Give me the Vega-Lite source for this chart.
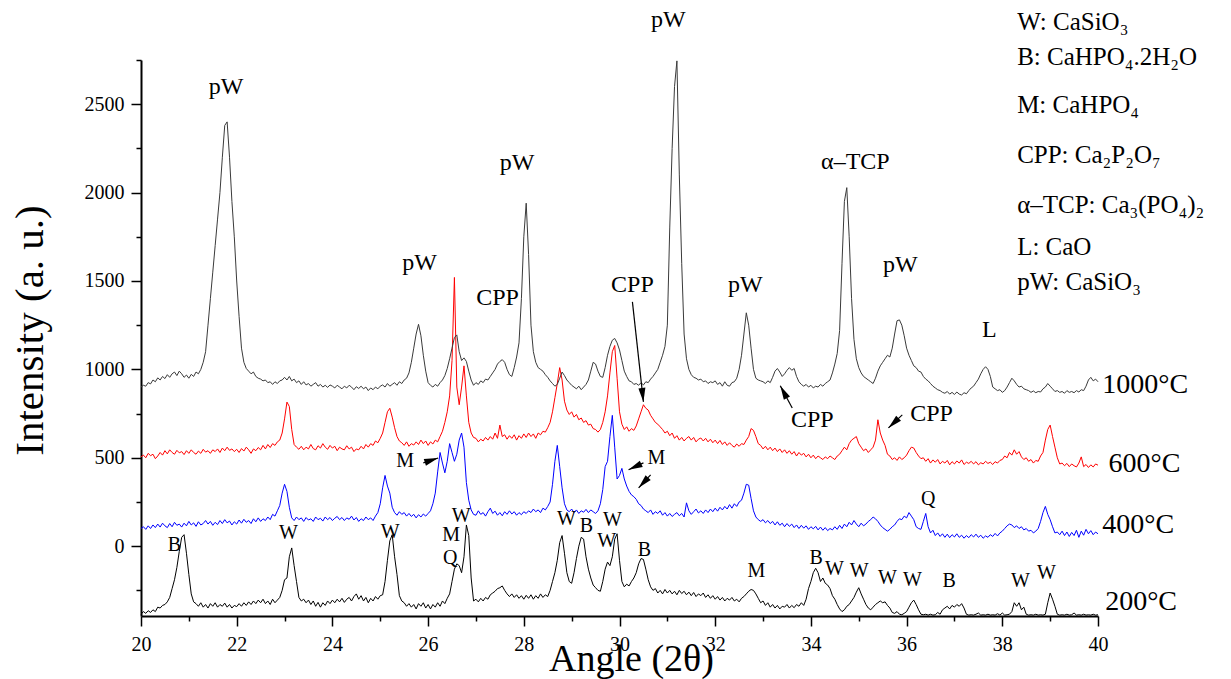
{
"$schema": "https://vega.github.io/schema/vega-lite/v6.json",
"width": 957, "height": 556,
"autosize": {"type": "none"},
"padding": {"left": 141, "top": 60, "right": 133, "bottom": 63},
"background": "white",
"config": {"view": {"stroke": null}, "font": "Liberation Serif"},
"datasets": {
"xrd": [
{"x":20,"a":900,"b":505,"c":100,"d":-385},
{"x":20.05,"a":910,"b":515,"c":110,"d":-370},
{"x":20.1,"a":905,"b":500,"c":95,"d":-380},
{"x":20.15,"a":925,"b":525,"c":115,"d":-365},
{"x":20.2,"a":918,"b":512,"c":100,"d":-375},
{"x":20.25,"a":940,"b":520,"c":120,"d":-360},
{"x":20.3,"a":930,"b":495,"c":105,"d":-370},
{"x":20.35,"a":952,"b":510,"c":125,"d":-345},
{"x":20.4,"a":940,"b":530,"c":108,"d":-350},
{"x":20.45,"a":960,"b":515,"c":130,"d":-335},
{"x":20.5,"a":948,"b":540,"c":115,"d":-330},
{"x":20.55,"a":970,"b":522,"c":105,"d":-315},
{"x":20.6,"a":955,"b":545,"c":128,"d":-290},
{"x":20.65,"a":975,"b":530,"c":110,"d":-240},
{"x":20.7,"a":985,"b":520,"c":135,"d":-190},
{"x":20.75,"a":965,"b":542,"c":118,"d":-120},
{"x":20.8,"a":990,"b":528,"c":125,"d":-30},
{"x":20.85,"a":975,"b":535,"c":108,"d":50},
{"x":20.9,"a":955,"b":518,"c":130,"d":65},
{"x":20.95,"a":968,"b":540,"c":115,"d":-40},
{"x":21,"a":950,"b":525,"c":140,"d":-160},
{"x":21.05,"a":972,"b":545,"c":120,"d":-270},
{"x":21.1,"a":960,"b":530,"c":132,"d":-315},
{"x":21.15,"a":985,"b":520,"c":112,"d":-325},
{"x":21.2,"a":975,"b":538,"c":138,"d":-340},
{"x":21.25,"a":1000,"b":525,"c":120,"d":-320},
{"x":21.3,"a":1040,"b":548,"c":128,"d":-345},
{"x":21.35,"a":1100,"b":532,"c":145,"d":-330},
{"x":21.4,"a":1250,"b":540,"c":125,"d":-350},
{"x":21.45,"a":1400,"b":525,"c":140,"d":-325},
{"x":21.5,"a":1550,"b":545,"c":118,"d":-340},
{"x":21.55,"a":1700,"b":535,"c":135,"d":-320},
{"x":21.6,"a":1850,"b":550,"c":122,"d":-345},
{"x":21.65,"a":2000,"b":530,"c":145,"d":-330},
{"x":21.7,"a":2200,"b":555,"c":128,"d":-340},
{"x":21.75,"a":2380,"b":540,"c":150,"d":-322},
{"x":21.8,"a":2400,"b":560,"c":132,"d":-345},
{"x":21.85,"a":2200,"b":542,"c":142,"d":-330},
{"x":21.9,"a":1950,"b":550,"c":120,"d":-350},
{"x":21.95,"a":1750,"b":535,"c":138,"d":-335},
{"x":22,"a":1500,"b":548,"c":125,"d":-342},
{"x":22.05,"a":1300,"b":530,"c":148,"d":-325},
{"x":22.1,"a":1120,"b":552,"c":130,"d":-340},
{"x":22.15,"a":1040,"b":538,"c":152,"d":-320},
{"x":22.2,"a":1005,"b":560,"c":135,"d":-335},
{"x":22.25,"a":990,"b":545,"c":145,"d":-315},
{"x":22.3,"a":975,"b":525,"c":128,"d":-330},
{"x":22.35,"a":985,"b":550,"c":155,"d":-310},
{"x":22.4,"a":960,"b":540,"c":138,"d":-325},
{"x":22.45,"a":950,"b":558,"c":160,"d":-305},
{"x":22.5,"a":945,"b":545,"c":140,"d":-320},
{"x":22.55,"a":935,"b":570,"c":155,"d":-300},
{"x":22.6,"a":940,"b":550,"c":145,"d":-325},
{"x":22.65,"a":925,"b":575,"c":165,"d":-310},
{"x":22.7,"a":930,"b":558,"c":150,"d":-330},
{"x":22.75,"a":915,"b":580,"c":180,"d":-300},
{"x":22.8,"a":930,"b":570,"c":170,"d":-320},
{"x":22.85,"a":920,"b":590,"c":200,"d":-305},
{"x":22.9,"a":935,"b":600,"c":230,"d":-290},
{"x":22.95,"a":940,"b":640,"c":300,"d":-250},
{"x":23,"a":955,"b":720,"c":350,"d":-190},
{"x":23.05,"a":940,"b":815,"c":310,"d":-180},
{"x":23.1,"a":960,"b":790,"c":220,"d":-60},
{"x":23.15,"a":935,"b":660,"c":160,"d":-10},
{"x":23.2,"a":945,"b":575,"c":145,"d":-110},
{"x":23.25,"a":925,"b":560,"c":165,"d":-200},
{"x":23.3,"a":935,"b":548,"c":150,"d":-290},
{"x":23.35,"a":915,"b":565,"c":160,"d":-310},
{"x":23.4,"a":930,"b":545,"c":140,"d":-300},
{"x":23.45,"a":912,"b":560,"c":162,"d":-320},
{"x":23.5,"a":920,"b":550,"c":148,"d":-305},
{"x":23.55,"a":905,"b":575,"c":155,"d":-330},
{"x":23.6,"a":915,"b":552,"c":140,"d":-310},
{"x":23.65,"a":925,"b":545,"c":165,"d":-340},
{"x":23.7,"a":905,"b":568,"c":150,"d":-318},
{"x":23.75,"a":915,"b":555,"c":158,"d":-345},
{"x":23.8,"a":900,"b":580,"c":142,"d":-320},
{"x":23.85,"a":910,"b":560,"c":165,"d":-335},
{"x":23.9,"a":898,"b":548,"c":150,"d":-310},
{"x":23.95,"a":912,"b":570,"c":162,"d":-325},
{"x":24,"a":905,"b":555,"c":145,"d":-305},
{"x":24.05,"a":895,"b":565,"c":158,"d":-320},
{"x":24.1,"a":910,"b":540,"c":168,"d":-300},
{"x":24.15,"a":900,"b":560,"c":150,"d":-315},
{"x":24.2,"a":890,"b":550,"c":162,"d":-295},
{"x":24.25,"a":905,"b":545,"c":145,"d":-318},
{"x":24.3,"a":895,"b":568,"c":160,"d":-300},
{"x":24.35,"a":910,"b":550,"c":152,"d":-290},
{"x":24.4,"a":900,"b":560,"c":170,"d":-310},
{"x":24.45,"a":885,"b":535,"c":148,"d":-285},
{"x":24.5,"a":902,"b":550,"c":162,"d":-270},
{"x":24.55,"a":892,"b":545,"c":140,"d":-300},
{"x":24.6,"a":905,"b":565,"c":155,"d":-280},
{"x":24.65,"a":890,"b":550,"c":145,"d":-310},
{"x":24.7,"a":900,"b":575,"c":165,"d":-290},
{"x":24.75,"a":880,"b":560,"c":150,"d":-320},
{"x":24.8,"a":895,"b":580,"c":160,"d":-295},
{"x":24.85,"a":885,"b":570,"c":145,"d":-310},
{"x":24.9,"a":900,"b":595,"c":170,"d":-285},
{"x":24.95,"a":890,"b":585,"c":190,"d":-300},
{"x":25,"a":905,"b":610,"c":240,"d":-280},
{"x":25.05,"a":912,"b":640,"c":330,"d":-275},
{"x":25.1,"a":900,"b":700,"c":400,"d":-200},
{"x":25.15,"a":920,"b":760,"c":340,"d":-80},
{"x":25.2,"a":905,"b":780,"c":300,"d":30},
{"x":25.25,"a":915,"b":730,"c":220,"d":65},
{"x":25.3,"a":925,"b":670,"c":190,"d":-60},
{"x":25.35,"a":910,"b":620,"c":175,"d":-160},
{"x":25.4,"a":930,"b":595,"c":195,"d":-280},
{"x":25.45,"a":920,"b":585,"c":180,"d":-310},
{"x":25.5,"a":940,"b":570,"c":190,"d":-320},
{"x":25.55,"a":950,"b":590,"c":170,"d":-340},
{"x":25.6,"a":980,"b":565,"c":185,"d":-325},
{"x":25.65,"a":1040,"b":580,"c":168,"d":-345},
{"x":25.7,"a":1120,"b":572,"c":180,"d":-330},
{"x":25.75,"a":1200,"b":590,"c":160,"d":-355},
{"x":25.8,"a":1255,"b":575,"c":178,"d":-325},
{"x":25.85,"a":1190,"b":600,"c":165,"d":-340},
{"x":25.9,"a":1080,"b":580,"c":182,"d":-320},
{"x":25.95,"a":990,"b":595,"c":170,"d":-350},
{"x":26,"a":925,"b":570,"c":185,"d":-330},
{"x":26.05,"a":910,"b":590,"c":200,"d":-355},
{"x":26.1,"a":900,"b":578,"c":240,"d":-330},
{"x":26.15,"a":915,"b":600,"c":300,"d":-345},
{"x":26.2,"a":905,"b":590,"c":420,"d":-320},
{"x":26.25,"a":925,"b":620,"c":530,"d":-340},
{"x":26.3,"a":940,"b":650,"c":470,"d":-310},
{"x":26.35,"a":965,"b":700,"c":415,"d":-325},
{"x":26.4,"a":1005,"b":760,"c":480,"d":-295},
{"x":26.45,"a":1060,"b":850,"c":580,"d":-270},
{"x":26.5,"a":1120,"b":1050,"c":530,"d":-200},
{"x":26.55,"a":1180,"b":1520,"c":480,"d":-130},
{"x":26.6,"a":1195,"b":900,"c":520,"d":-100},
{"x":26.65,"a":1100,"b":800,"c":600,"d":-110},
{"x":26.7,"a":1050,"b":900,"c":640,"d":-150},
{"x":26.75,"a":1065,"b":1020,"c":560,"d":-60},
{"x":26.8,"a":1045,"b":850,"c":360,"d":120},
{"x":26.85,"a":990,"b":700,"c":260,"d":60},
{"x":26.9,"a":940,"b":640,"c":205,"d":-180},
{"x":26.95,"a":910,"b":615,"c":180,"d":-310},
{"x":27,"a":925,"b":610,"c":175,"d":-300},
{"x":27.05,"a":915,"b":590,"c":200,"d":-315},
{"x":27.1,"a":935,"b":605,"c":180,"d":-295},
{"x":27.15,"a":925,"b":595,"c":190,"d":-310},
{"x":27.2,"a":945,"b":615,"c":170,"d":-290},
{"x":27.25,"a":940,"b":600,"c":195,"d":-300},
{"x":27.3,"a":960,"b":620,"c":215,"d":-275},
{"x":27.35,"a":980,"b":605,"c":185,"d":-265},
{"x":27.4,"a":1000,"b":640,"c":198,"d":-255},
{"x":27.45,"a":1030,"b":610,"c":175,"d":-240},
{"x":27.5,"a":1045,"b":685,"c":190,"d":-235},
{"x":27.55,"a":1055,"b":620,"c":172,"d":-225},
{"x":27.6,"a":1040,"b":630,"c":195,"d":-250},
{"x":27.65,"a":1000,"b":605,"c":180,"d":-270},
{"x":27.7,"a":970,"b":625,"c":200,"d":-285},
{"x":27.75,"a":960,"b":610,"c":182,"d":-270},
{"x":27.8,"a":1010,"b":630,"c":195,"d":-290},
{"x":27.85,"a":1070,"b":600,"c":175,"d":-275},
{"x":27.9,"a":1150,"b":625,"c":190,"d":-295},
{"x":27.95,"a":1400,"b":610,"c":178,"d":-280},
{"x":28,"a":1750,"b":635,"c":195,"d":-300},
{"x":28.05,"a":1940,"b":615,"c":185,"d":-278},
{"x":28.1,"a":1650,"b":640,"c":200,"d":-295},
{"x":28.15,"a":1250,"b":620,"c":190,"d":-275},
{"x":28.2,"a":1100,"b":635,"c":210,"d":-300},
{"x":28.25,"a":1040,"b":610,"c":195,"d":-280},
{"x":28.3,"a":1010,"b":640,"c":205,"d":-295},
{"x":28.35,"a":1000,"b":630,"c":190,"d":-270},
{"x":28.4,"a":990,"b":650,"c":215,"d":-290},
{"x":28.45,"a":970,"b":645,"c":205,"d":-275},
{"x":28.5,"a":955,"b":670,"c":225,"d":-285},
{"x":28.55,"a":935,"b":700,"c":250,"d":-250},
{"x":28.6,"a":920,"b":760,"c":350,"d":-200},
{"x":28.65,"a":905,"b":840,"c":480,"d":-150},
{"x":28.7,"a":915,"b":920,"c":570,"d":-80},
{"x":28.75,"a":950,"b":1010,"c":450,"d":20},
{"x":28.8,"a":985,"b":940,"c":330,"d":60},
{"x":28.85,"a":965,"b":820,"c":240,"d":-40},
{"x":28.9,"a":940,"b":770,"c":205,"d":-150},
{"x":28.95,"a":925,"b":745,"c":195,"d":-200},
{"x":29,"a":910,"b":760,"c":210,"d":-210},
{"x":29.05,"a":900,"b":730,"c":190,"d":-150},
{"x":29.1,"a":890,"b":745,"c":205,"d":-70},
{"x":29.15,"a":905,"b":715,"c":185,"d":0},
{"x":29.2,"a":885,"b":725,"c":200,"d":50},
{"x":29.25,"a":900,"b":700,"c":192,"d":40},
{"x":29.3,"a":915,"b":710,"c":208,"d":-60},
{"x":29.35,"a":940,"b":685,"c":190,"d":-130},
{"x":29.4,"a":990,"b":690,"c":205,"d":-180},
{"x":29.45,"a":1040,"b":665,"c":195,"d":-220},
{"x":29.5,"a":1030,"b":660,"c":185,"d":-235},
{"x":29.55,"a":990,"b":645,"c":200,"d":-250},
{"x":29.6,"a":960,"b":660,"c":240,"d":-255},
{"x":29.65,"a":955,"b":700,"c":320,"d":-200},
{"x":29.7,"a":1010,"b":760,"c":450,"d":-130},
{"x":29.75,"a":1080,"b":850,"c":480,"d":-90},
{"x":29.8,"a":1130,"b":980,"c":620,"d":-110},
{"x":29.85,"a":1165,"b":1100,"c":740,"d":-60},
{"x":29.9,"a":1175,"b":1135,"c":560,"d":40},
{"x":29.95,"a":1150,"b":950,"c":380,"d":70},
{"x":30,"a":1110,"b":760,"c":400,"d":-80},
{"x":30.05,"a":1050,"b":690,"c":440,"d":-200},
{"x":30.1,"a":990,"b":660,"c":380,"d":-230},
{"x":30.15,"a":960,"b":675,"c":340,"d":-215},
{"x":30.2,"a":935,"b":650,"c":310,"d":-225},
{"x":30.25,"a":930,"b":665,"c":290,"d":-200},
{"x":30.3,"a":915,"b":655,"c":280,"d":-180},
{"x":30.35,"a":920,"b":680,"c":265,"d":-150},
{"x":30.4,"a":910,"b":720,"c":240,"d":-100},
{"x":30.45,"a":925,"b":760,"c":230,"d":-70},
{"x":30.5,"a":912,"b":800,"c":210,"d":-75},
{"x":30.55,"a":930,"b":780,"c":200,"d":-130},
{"x":30.6,"a":925,"b":770,"c":190,"d":-190},
{"x":30.65,"a":945,"b":740,"c":205,"d":-230},
{"x":30.7,"a":960,"b":720,"c":180,"d":-250},
{"x":30.75,"a":980,"b":700,"c":195,"d":-240},
{"x":30.8,"a":1000,"b":690,"c":185,"d":-265},
{"x":30.85,"a":1040,"b":675,"c":200,"d":-250},
{"x":30.9,"a":1080,"b":660,"c":175,"d":-270},
{"x":30.95,"a":1130,"b":640,"c":190,"d":-245},
{"x":31,"a":1250,"b":650,"c":170,"d":-265},
{"x":31.05,"a":1800,"b":625,"c":185,"d":-250},
{"x":31.1,"a":2250,"b":640,"c":168,"d":-270},
{"x":31.15,"a":2600,"b":610,"c":180,"d":-255},
{"x":31.2,"a":2745,"b":625,"c":190,"d":-275},
{"x":31.25,"a":2100,"b":600,"c":172,"d":-250},
{"x":31.3,"a":1600,"b":615,"c":185,"d":-268},
{"x":31.35,"a":1200,"b":595,"c":165,"d":-255},
{"x":31.4,"a":1060,"b":610,"c":245,"d":-275},
{"x":31.45,"a":1000,"b":620,"c":200,"d":-260},
{"x":31.5,"a":970,"b":600,"c":180,"d":-280},
{"x":31.55,"a":955,"b":615,"c":195,"d":-262},
{"x":31.6,"a":950,"b":590,"c":210,"d":-285},
{"x":31.65,"a":940,"b":605,"c":188,"d":-270},
{"x":31.7,"a":945,"b":612,"c":200,"d":-280},
{"x":31.75,"a":930,"b":595,"c":185,"d":-265},
{"x":31.8,"a":935,"b":610,"c":205,"d":-290},
{"x":31.85,"a":920,"b":590,"c":190,"d":-275},
{"x":31.9,"a":930,"b":605,"c":210,"d":-295},
{"x":31.95,"a":925,"b":585,"c":195,"d":-280},
{"x":32,"a":935,"b":600,"c":215,"d":-300},
{"x":32.05,"a":915,"b":580,"c":198,"d":-285},
{"x":32.1,"a":925,"b":598,"c":220,"d":-305},
{"x":32.15,"a":905,"b":575,"c":205,"d":-290},
{"x":32.2,"a":930,"b":590,"c":225,"d":-310},
{"x":32.25,"a":910,"b":570,"c":210,"d":-295},
{"x":32.3,"a":905,"b":585,"c":235,"d":-305},
{"x":32.35,"a":925,"b":570,"c":215,"d":-290},
{"x":32.4,"a":930,"b":560,"c":240,"d":-310},
{"x":32.45,"a":950,"b":578,"c":225,"d":-300},
{"x":32.5,"a":1000,"b":565,"c":250,"d":-315},
{"x":32.55,"a":1080,"b":580,"c":260,"d":-295},
{"x":32.6,"a":1200,"b":575,"c":300,"d":-285},
{"x":32.65,"a":1320,"b":600,"c":350,"d":-270},
{"x":32.7,"a":1250,"b":620,"c":345,"d":-255},
{"x":32.75,"a":1120,"b":665,"c":270,"d":-245},
{"x":32.8,"a":1000,"b":655,"c":200,"d":-250},
{"x":32.85,"a":950,"b":620,"c":165,"d":-270},
{"x":32.9,"a":940,"b":580,"c":150,"d":-295},
{"x":32.95,"a":935,"b":570,"c":140,"d":-320},
{"x":33,"a":930,"b":550,"c":150,"d":-310},
{"x":33.05,"a":920,"b":565,"c":132,"d":-335},
{"x":33.1,"a":935,"b":545,"c":145,"d":-320},
{"x":33.15,"a":925,"b":560,"c":128,"d":-345},
{"x":33.2,"a":955,"b":540,"c":140,"d":-330},
{"x":33.25,"a":990,"b":555,"c":120,"d":-350},
{"x":33.3,"a":1005,"b":535,"c":138,"d":-335},
{"x":33.35,"a":985,"b":550,"c":118,"d":-355},
{"x":33.4,"a":960,"b":530,"c":130,"d":-340},
{"x":33.45,"a":975,"b":545,"c":110,"d":-345},
{"x":33.5,"a":995,"b":525,"c":128,"d":-330},
{"x":33.55,"a":1010,"b":540,"c":112,"d":-350},
{"x":33.6,"a":995,"b":520,"c":125,"d":-335},
{"x":33.65,"a":1005,"b":535,"c":105,"d":-348},
{"x":33.7,"a":960,"b":510,"c":120,"d":-330},
{"x":33.75,"a":930,"b":530,"c":100,"d":-340},
{"x":33.8,"a":915,"b":515,"c":118,"d":-320},
{"x":33.85,"a":905,"b":525,"c":102,"d":-335},
{"x":33.9,"a":915,"b":505,"c":115,"d":-300},
{"x":33.95,"a":900,"b":520,"c":95,"d":-240},
{"x":34,"a":910,"b":500,"c":110,"d":-200},
{"x":34.05,"a":895,"b":515,"c":98,"d":-150},
{"x":34.1,"a":905,"b":495,"c":112,"d":-125},
{"x":34.15,"a":900,"b":510,"c":92,"d":-150},
{"x":34.2,"a":915,"b":500,"c":108,"d":-200},
{"x":34.25,"a":905,"b":490,"c":90,"d":-180},
{"x":34.3,"a":920,"b":505,"c":105,"d":-210},
{"x":34.35,"a":930,"b":495,"c":88,"d":-220},
{"x":34.4,"a":940,"b":510,"c":100,"d":-240},
{"x":34.45,"a":980,"b":500,"c":92,"d":-280},
{"x":34.5,"a":1030,"b":490,"c":110,"d":-300},
{"x":34.55,"a":1090,"b":510,"c":95,"d":-330},
{"x":34.6,"a":1220,"b":520,"c":118,"d":-355},
{"x":34.65,"a":1600,"b":540,"c":100,"d":-370},
{"x":34.7,"a":1950,"b":560,"c":125,"d":-360},
{"x":34.75,"a":2028,"b":545,"c":110,"d":-340},
{"x":34.8,"a":1750,"b":580,"c":135,"d":-330},
{"x":34.85,"a":1400,"b":600,"c":120,"d":-310},
{"x":34.9,"a":1170,"b":610,"c":145,"d":-290},
{"x":34.95,"a":1060,"b":620,"c":125,"d":-260},
{"x":35,"a":1010,"b":580,"c":110,"d":-235},
{"x":35.05,"a":980,"b":560,"c":130,"d":-270},
{"x":35.1,"a":960,"b":540,"c":115,"d":-300},
{"x":35.15,"a":950,"b":550,"c":125,"d":-330},
{"x":35.2,"a":940,"b":530,"c":140,"d":-350},
{"x":35.25,"a":930,"b":545,"c":150,"d":-360},
{"x":35.3,"a":920,"b":560,"c":165,"d":-345},
{"x":35.35,"a":950,"b":600,"c":155,"d":-330},
{"x":35.4,"a":990,"b":715,"c":140,"d":-320},
{"x":35.45,"a":1020,"b":640,"c":120,"d":-310},
{"x":35.5,"a":1040,"b":600,"c":105,"d":-320},
{"x":35.55,"a":1060,"b":570,"c":95,"d":-315},
{"x":35.6,"a":1080,"b":520,"c":85,"d":-335},
{"x":35.65,"a":1070,"b":510,"c":95,"d":-350},
{"x":35.7,"a":1120,"b":490,"c":110,"d":-375},
{"x":35.75,"a":1200,"b":500,"c":120,"d":-380},
{"x":35.8,"a":1275,"b":485,"c":140,"d":-370},
{"x":35.85,"a":1280,"b":505,"c":155,"d":-385},
{"x":35.9,"a":1250,"b":490,"c":150,"d":-388},
{"x":35.95,"a":1190,"b":500,"c":170,"d":-380},
{"x":36,"a":1120,"b":515,"c":160,"d":-370},
{"x":36.05,"a":1080,"b":540,"c":190,"d":-345},
{"x":36.1,"a":1050,"b":560,"c":170,"d":-320},
{"x":36.15,"a":1020,"b":555,"c":150,"d":-305},
{"x":36.2,"a":1010,"b":530,"c":110,"d":-330},
{"x":36.25,"a":990,"b":510,"c":100,"d":-360},
{"x":36.3,"a":985,"b":495,"c":95,"d":-385},
{"x":36.35,"a":960,"b":500,"c":140,"d":-388},
{"x":36.4,"a":945,"b":480,"c":185,"d":-385},
{"x":36.45,"a":935,"b":495,"c":110,"d":-390},
{"x":36.5,"a":920,"b":470,"c":75,"d":-385},
{"x":36.55,"a":905,"b":488,"c":90,"d":-390},
{"x":36.6,"a":895,"b":475,"c":60,"d":-388},
{"x":36.65,"a":885,"b":490,"c":75,"d":-375},
{"x":36.7,"a":880,"b":465,"c":55,"d":-385},
{"x":36.75,"a":870,"b":480,"c":70,"d":-360},
{"x":36.8,"a":865,"b":470,"c":50,"d":-350},
{"x":36.85,"a":875,"b":485,"c":68,"d":-340},
{"x":36.9,"a":860,"b":460,"c":48,"d":-355},
{"x":36.95,"a":870,"b":478,"c":65,"d":-335},
{"x":37,"a":858,"b":465,"c":52,"d":-345},
{"x":37.05,"a":872,"b":482,"c":70,"d":-330},
{"x":37.1,"a":860,"b":470,"c":50,"d":-340},
{"x":37.15,"a":855,"b":488,"c":62,"d":-325},
{"x":37.2,"a":868,"b":462,"c":45,"d":-350},
{"x":37.25,"a":862,"b":475,"c":60,"d":-385},
{"x":37.3,"a":880,"b":468,"c":48,"d":-390},
{"x":37.35,"a":895,"b":480,"c":65,"d":-388},
{"x":37.4,"a":905,"b":465,"c":52,"d":-390},
{"x":37.45,"a":925,"b":478,"c":68,"d":-385},
{"x":37.5,"a":945,"b":460,"c":50,"d":-378},
{"x":37.55,"a":975,"b":472,"c":62,"d":-390},
{"x":37.6,"a":1000,"b":465,"c":45,"d":-388},
{"x":37.65,"a":1015,"b":480,"c":58,"d":-390},
{"x":37.7,"a":1000,"b":468,"c":50,"d":-385},
{"x":37.75,"a":960,"b":475,"c":65,"d":-390},
{"x":37.8,"a":900,"b":462,"c":55,"d":-388},
{"x":37.85,"a":890,"b":478,"c":72,"d":-390},
{"x":37.9,"a":880,"b":470,"c":58,"d":-382},
{"x":37.95,"a":885,"b":485,"c":75,"d":-390},
{"x":38,"a":870,"b":490,"c":85,"d":-378},
{"x":38.05,"a":880,"b":510,"c":100,"d":-390},
{"x":38.1,"a":900,"b":500,"c":115,"d":-388},
{"x":38.15,"a":925,"b":530,"c":125,"d":-385},
{"x":38.2,"a":950,"b":515,"c":120,"d":-370},
{"x":38.25,"a":935,"b":545,"c":105,"d":-320},
{"x":38.3,"a":915,"b":520,"c":115,"d":-340},
{"x":38.35,"a":900,"b":535,"c":100,"d":-320},
{"x":38.4,"a":905,"b":505,"c":110,"d":-360},
{"x":38.45,"a":890,"b":490,"c":92,"d":-345},
{"x":38.5,"a":885,"b":500,"c":100,"d":-385},
{"x":38.55,"a":880,"b":480,"c":85,"d":-390},
{"x":38.6,"a":870,"b":490,"c":90,"d":-388},
{"x":38.65,"a":878,"b":470,"c":75,"d":-390},
{"x":38.7,"a":868,"b":485,"c":85,"d":-385},
{"x":38.75,"a":875,"b":480,"c":100,"d":-390},
{"x":38.8,"a":872,"b":510,"c":140,"d":-388},
{"x":38.85,"a":890,"b":530,"c":190,"d":-390},
{"x":38.9,"a":900,"b":600,"c":225,"d":-385},
{"x":38.95,"a":920,"b":660,"c":180,"d":-320},
{"x":39,"a":905,"b":685,"c":150,"d":-265},
{"x":39.05,"a":890,"b":620,"c":110,"d":-300},
{"x":39.1,"a":875,"b":560,"c":75,"d":-340},
{"x":39.15,"a":880,"b":500,"c":80,"d":-385},
{"x":39.2,"a":870,"b":465,"c":65,"d":-390},
{"x":39.25,"a":875,"b":470,"c":85,"d":-388},
{"x":39.3,"a":865,"b":455,"c":60,"d":-390},
{"x":39.35,"a":880,"b":468,"c":80,"d":-385},
{"x":39.4,"a":870,"b":450,"c":55,"d":-390},
{"x":39.45,"a":875,"b":465,"c":78,"d":-388},
{"x":39.5,"a":868,"b":455,"c":60,"d":-378},
{"x":39.55,"a":880,"b":448,"c":90,"d":-390},
{"x":39.6,"a":872,"b":470,"c":50,"d":-388},
{"x":39.65,"a":885,"b":505,"c":85,"d":-390},
{"x":39.7,"a":880,"b":450,"c":62,"d":-385},
{"x":39.75,"a":905,"b":462,"c":95,"d":-390},
{"x":39.8,"a":940,"b":445,"c":70,"d":-388},
{"x":39.85,"a":955,"b":460,"c":88,"d":-390},
{"x":39.9,"a":935,"b":448,"c":65,"d":-385},
{"x":39.95,"a":945,"b":465,"c":80,"d":-390},
{"x":40,"a":930,"b":458,"c":70,"d":-388}
],
"big": [
{"x":21.78,"y":2595,"t":"pW"},
{"x":27.86,"y":2168,"t":"pW"},
{"x":31.02,"y":2977,"t":"pW"},
{"x":25.82,"y":1602,"t":"pW"},
{"x":27.45,"y":1405,"t":"CPP"},
{"x":30.27,"y":1478,"t":"CPP"},
{"x":32.63,"y":1478,"t":"pW"},
{"x":34.93,"y":2173,"t":"α–TCP"},
{"x":35.87,"y":1591,"t":"pW"},
{"x":37.73,"y":1223,"t":"L"},
{"x":34.03,"y":715,"t":"CPP"},
{"x":36.52,"y":749,"t":"CPP"}
],
"small": [
{"x":25.52,"y":482,"t":"M"},
{"x":30.77,"y":499,"t":"M"},
{"x":36.45,"y":267,"t":"Q"},
{"x":20.7,"y":7,"t":"B"},
{"x":23.08,"y":75,"t":"W"},
{"x":25.21,"y":81,"t":"W"},
{"x":26.69,"y":171,"t":"W"},
{"x":26.48,"y":64,"t":"M"},
{"x":26.46,"y":-66,"t":"Q"},
{"x":28.89,"y":154,"t":"W"},
{"x":29.31,"y":115,"t":"B"},
{"x":29.85,"y":149,"t":"W"},
{"x":29.73,"y":30,"t":"W"},
{"x":30.52,"y":-21,"t":"B"},
{"x":32.86,"y":-140,"t":"M"},
{"x":34.11,"y":-66,"t":"B"},
{"x":34.49,"y":-128,"t":"W"},
{"x":35.01,"y":-140,"t":"W"},
{"x":35.6,"y":-179,"t":"W"},
{"x":36.12,"y":-191,"t":"W"},
{"x":36.89,"y":-196,"t":"B"},
{"x":38.38,"y":-196,"t":"W"},
{"x":38.92,"y":-151,"t":"W"}
],
"temps": [
{"x":40.09,"y":869,"t":"1000°C"},
{"x":40.22,"y":420,"t":"600°C"},
{"x":40.09,"y":75,"t":"400°C"},
{"x":40.15,"y":-360,"t":"200°C"}
],
"key": [
{"x":38.31,"y":2920,"t":"W: CaSiO₃"},
{"x":38.31,"y":2722,"t":"B: CaHPO₄.2H₂O"},
{"x":38.31,"y":2450,"t":"M: CaHPO₄"},
{"x":38.31,"y":2168,"t":"CPP: Ca₂P₂O₇"},
{"x":38.31,"y":1885,"t":"α–TCP: Ca₃(PO₄)₂"},
{"x":38.31,"y":1648,"t":"L: CaO"},
{"x":38.31,"y":1450,"t":"pW: CaSiO₃"}
],
"arrows": [
{"sx":30.27,"sv":1382,"tx":30.5,"tv":816},
{"sx":33.61,"sv":782,"tx":33.36,"tv":907},
{"sx":35.91,"sv":743,"tx":35.62,"tv":669},
{"sx":25.9,"sv":471,"tx":26.21,"tv":499},
{"sx":30.5,"sv":471,"tx":30.19,"tv":432},
{"sx":30.65,"sv":403,"tx":30.4,"tv":330}
]
},
"layer": [
{
"data": {"name": "xrd"},
"transform": [{"fold": ["d", "c", "b", "a"], "as": ["s", "v"]}],
"mark": {"type": "line", "strokeWidth": 1},
"encoding": {
"x": {"field": "x", "type": "quantitative", "scale": {"domain": [20, 40], "nice": false, "zero": false},
"axis": {"title": "Angle (2θ)", "values": [20,21,22,23,24,25,26,27,28,29,30,31,32,33,34,35,36,37,38,39,40], "format": "d",
"labelExpr": "datum.value % 2 === 0 ? datum.label : ''", "grid": false,
"tickSize": {"condition": {"test": "datum.value % 2 !== 0", "value": 5}, "value": 10},
"domainColor": "black", "domainWidth": 2, "tickColor": "black", "tickWidth": 1.5,
"labelFont": "Liberation Serif", "labelFontSize": 20, "labelColor": "black", "labelPadding": 8, "labelOverlap": false, "labelFlush": false,
"titleFont": "Liberation Serif", "titleFontSize": 38, "titleFontWeight": "normal", "titleColor": "black",
"titleX": 490, "titleY": 54, "titleBaseline": "alphabetic", "titleAlign": "center"}},
"y": {"field": "v", "type": "quantitative", "scale": {"domain": [-395, 2750], "nice": false, "zero": false},
"axis": {"title": "Intensity (a. u.)", "values": [-250,0,250,500,750,1000,1250,1500,1750,2000,2250,2500,2750], "format": "d",
"labelExpr": "datum.value % 500 === 0 ? datum.label : ''", "grid": false,
"tickSize": {"condition": {"test": "datum.value % 500 !== 0", "value": 5}, "value": 10},
"domainColor": "black", "domainWidth": 2, "tickColor": "black", "tickWidth": 1.5,
"labelFont": "Liberation Serif", "labelFontSize": 20, "labelColor": "black", "labelPadding": 7, "labelOverlap": false,
"titleFont": "Liberation Serif", "titleFontSize": 41, "titleFontWeight": "normal", "titleColor": "black",
"titleAngle": 270, "titleX": -99, "titleY": 270, "titleBaseline": "alphabetic", "titleAlign": "center"}},
"color": {"field": "s", "type": "nominal", "scale": {"domain": ["a", "b", "c", "d"], "range": ["#3a3a3a", "#ff0000", "#0000ff", "#000000"]}, "legend": null}
}
},
{
"data": {"name": "arrows"},
"mark": {"type": "rule", "color": "black", "strokeWidth": 1.2},
"encoding": {
"x": {"field": "sx", "type": "quantitative", "scale": {"domain": [20, 40]}},
"y": {"field": "sv", "type": "quantitative", "scale": {"domain": [-395, 2750]}},
"x2": {"field": "tx"},
"y2": {"field": "tv"}
}
},
{
"data": {"name": "arrows"},
"transform": [{"calculate": "atan2((datum.tx - datum.sx) * 47.85, (datum.tv - datum.sv) * 0.1768) * 180 / PI", "as": "ang"}],
"mark": {"type": "point", "filled": true, "color": "black", "opacity": 1, "shape": "M0,0L0.5,2L-0.5,2Z", "size": 196},
"encoding": {
"x": {"field": "tx", "type": "quantitative", "scale": {"domain": [20, 40]}},
"y": {"field": "tv", "type": "quantitative", "scale": {"domain": [-395, 2750]}},
"angle": {"field": "ang", "type": "quantitative", "scale": null}
}
},
{
"data": {"name": "big"},
"mark": {"type": "text", "font": "Liberation Serif", "fontSize": 24, "color": "black", "align": "center", "baseline": "middle"},
"encoding": {
"x": {"field": "x", "type": "quantitative", "scale": {"domain": [20, 40]}},
"y": {"field": "y", "type": "quantitative", "scale": {"domain": [-395, 2750]}},
"text": {"field": "t"}
}
},
{
"data": {"name": "small"},
"mark": {"type": "text", "font": "Liberation Serif", "fontSize": 20, "color": "black", "align": "center", "baseline": "middle"},
"encoding": {
"x": {"field": "x", "type": "quantitative", "scale": {"domain": [20, 40]}},
"y": {"field": "y", "type": "quantitative", "scale": {"domain": [-395, 2750]}},
"text": {"field": "t"}
}
},
{
"data": {"name": "temps"},
"mark": {"type": "text", "font": "Liberation Serif", "fontSize": 28, "color": "black", "align": "left", "baseline": "alphabetic"},
"encoding": {
"x": {"field": "x", "type": "quantitative", "scale": {"domain": [20, 40]}},
"y": {"field": "y", "type": "quantitative", "scale": {"domain": [-395, 2750]}},
"text": {"field": "t"}
}
},
{
"data": {"name": "key"},
"mark": {"type": "text", "font": "Liberation Serif", "fontSize": 25, "color": "black", "align": "left", "baseline": "alphabetic"},
"encoding": {
"x": {"field": "x", "type": "quantitative", "scale": {"domain": [20, 40]}},
"y": {"field": "y", "type": "quantitative", "scale": {"domain": [-395, 2750]}},
"text": {"field": "t"}
}
}
]
}
